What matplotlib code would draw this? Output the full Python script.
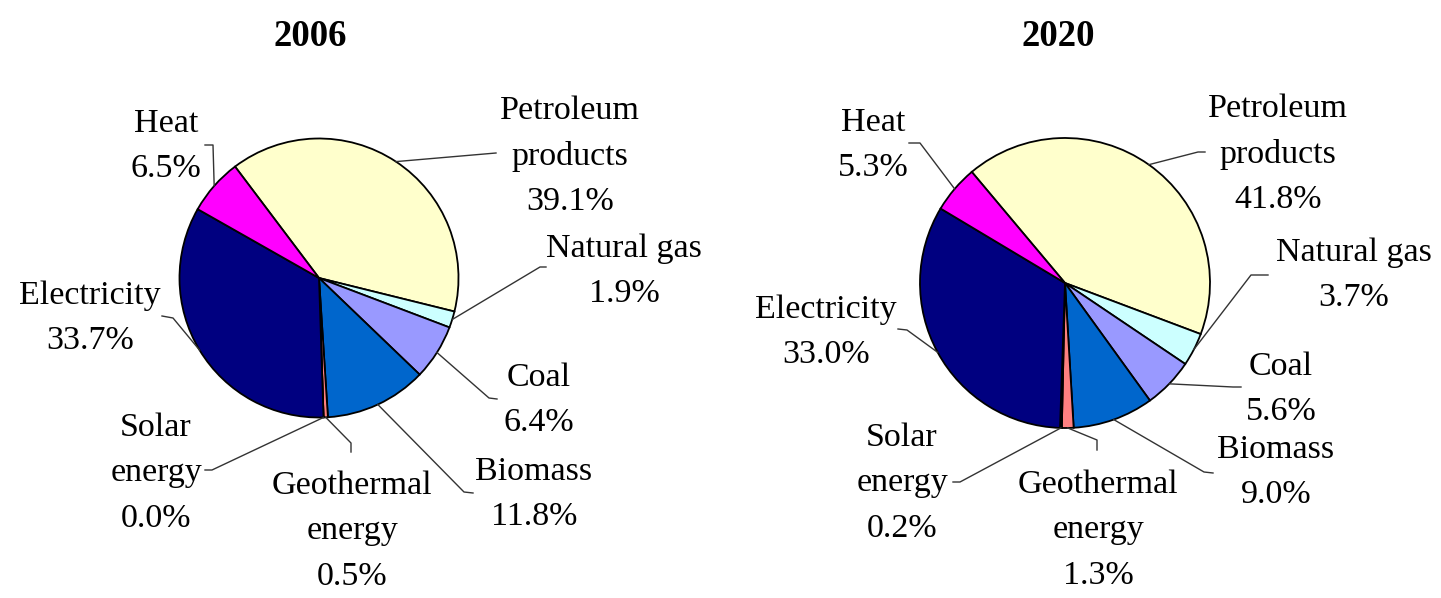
import numpy as np
import matplotlib
matplotlib.use("Agg")
import matplotlib.pyplot as plt

# Datos ---------------------------------------
categories = ["Petroleum\nproducts", "Natural gas", "Coal", "Biomass",
              "Geothermal\nenergy", "Solar\nenergy", "Electricity", "Heat"]
share_2006 = [39.1, 1.9, 6.4, 11.8, 0.5, 0.0, 33.7, 6.5]
share_2020 = [41.8, 3.7, 5.6, 9.0, 1.3, 0.2, 33.0, 5.3]
years = ["2006", "2020"]

colors = ["#FFFFCC", "#CCFFFF", "#9999FF", "#0066CC",
          "#FF8080", "#FFFF00", "#000080", "#FF00FF"]

W, H = 1441, 598

# Posiciones (pixeles, y hacia abajo) ----------
layout = {
    "2006": dict(center=(319, 278), radius=139.5, start=127, title=(310, 36),
                 text=[(570, 156), (624, 271), (539, 400), (534, 494),
                       (352, 531), (156, 473), (90, 318), (166, 146)],
                 leader=[[(496, 153)],
                         [(540, 267), (546, 267)],
                         [(489, 398), (497, 399)],
                         [(464, 492), (473, 493)],
                         [(351, 443), (351, 452)],
                         [(212, 470), (205, 470)],
                         [(173, 318), (162, 316)],
                         [(213, 145), (205, 145)]]),
    "2020": dict(center=(1065, 283), radius=145, start=130, title=(1058, 36),
                 text=[(1278, 154), (1354, 275), (1281, 389), (1276, 472),
                       (1098, 530), (902, 483), (826, 332), (873, 145)],
                 leader=[[(1198, 152), (1205, 152)],
                         [(1251, 275), (1268, 275)],
                         [(1233, 387), (1241, 387)],
                         [(1204, 472), (1213, 473)],
                         [(1097, 440), (1097, 450)],
                         [(960, 482), (953, 482)],
                         [(907, 330), (898, 329)],
                         [(920, 143), (909, 143)]]),
}

plt.rcParams["font.family"] = ["Liberation Serif", "DejaVu Serif"]

fig = plt.figure(figsize=(W / 100, H / 100), dpi=100, facecolor="white")
ax = fig.add_axes([0, 0, 1, 1])

for year, values in zip(years, [share_2006, share_2020]):
    L = layout[year]
    cx, cy = L["center"][0], H - L["center"][1]
    r = L["radius"]
    wedges, _ = ax.pie(values, colors=colors, center=(cx, cy), radius=r,
                       startangle=L["start"], counterclock=False,
                       wedgeprops=dict(edgecolor="black", linewidth=1.3))

    ax.text(L["title"][0], H - L["title"][1], year, ha="center", va="center",
            fontsize=26.5, fontweight="bold")

    for k, (cat, v) in enumerate(zip(categories, values)):
        w = wedges[k]
        ang = np.deg2rad((w.theta1 + w.theta2) / 2)
        xs = [cx + r * np.cos(ang)] + [p[0] for p in L["leader"][k]]
        ys = [cy + r * np.sin(ang)] + [H - p[1] for p in L["leader"][k]]
        ax.plot(xs, ys, color="#333333", lw=1.0)
        tx, ty = L["text"][k]
        ax.text(tx, H - ty, f"{cat}\n{v:.1f}%", ha="center", va="center",
                multialignment="center", fontsize=24.5, linespacing=1.63)

ax.set_xlim(0, W)
ax.set_ylim(0, H)
ax.set_aspect("equal")
ax.axis("off")

fig.savefig("out.png", dpi=100, facecolor="white")
